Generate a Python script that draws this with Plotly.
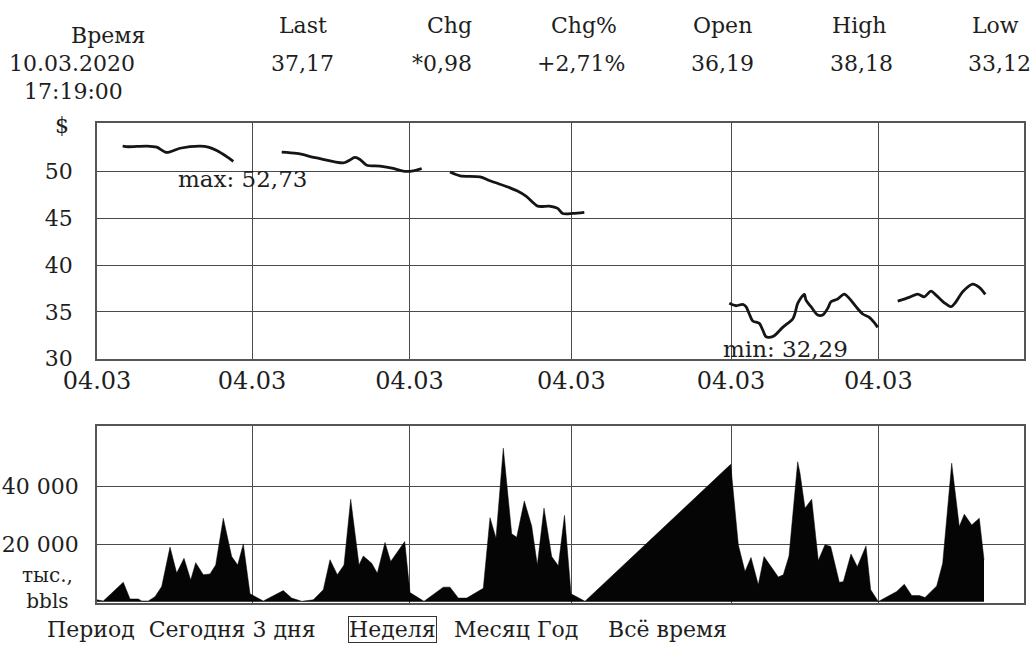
import plotly.graph_objects as go

# ---------------- data ----------------
header_labels = ["Время", "Last", "Chg", "Chg%", "Open", "High", "Low"]
header_values = ["10.03.2020", "37,17", "*0,98", "+2,71%", "36,19", "38,18", "33,12"]
header_time = "17:19:00"

# time axis (arbitrary session units); gridline ticks all labelled 04.03
tick_positions = [0, 155, 312.5, 474.3, 634, 781.3]
tick_labels = ["04.03"] * 6

# price segments (None = gap between sessions)
price_x = [25.7, 31.3, 49.7, 59.7, 69.7, 83, 103, 111.3, 119.7, 129.7, 136.3, None,
           184.7, 199.7, 219.7, 246.3, 251.3, 258, 263, 269.7, 283, 296.3, 306.3, 316.3, 324.7, None,
           353, 363, 383, 393, 413, 420, 429, 440.7, 452.3, 460.7, 465.7, 475.7, 487.3, None,
           632.3, 639, 645.7, 649, 652.3, 655.7, 662.3, 665.7, 669, 672.3, 677.3, 685.7, 695.7, 698,
           700.7, 707.3, 709, 714, 720.7, 725.7, 730.7, 734, 740.7, 747.3, 752.3, 759, 765.7, 772.3,
           777.3, 780.7, None,
           800.7, 812.3, 820.7, 827.3, 834, 839, 847.3, 854, 859, 865.7, 875.7, 882.3, 888.3]
price_y = [52.72, 52.66, 52.73, 52.62, 52.05, 52.5, 52.72, 52.62, 52.25, 51.6, 51.1, None,
           52.08, 51.94, 51.47, 50.94, 51.15, 51.52, 51.3, 50.69, 50.59, 50.34, 50.05, 50.09, 50.34, None,
           49.95, 49.55, 49.44, 49.02, 48.27, 47.95, 47.38, 46.31, 46.31, 46.07, 45.53, 45.53, 45.64, None,
           35.92, 35.66, 35.81, 35.56, 34.78, 34.03, 33.78, 33.07, 32.35, 32.29, 32.46, 33.35, 34.24, 34.85,
           35.92, 36.88, 36.27, 35.56, 34.67, 34.67, 35.38, 36.09, 36.38, 36.91, 36.45, 35.56, 34.78, 34.42,
           33.85, 33.35, None,
           36.16, 36.56, 36.91, 36.62, 37.23, 36.8, 35.98, 35.56, 36.09, 37.16, 37.98, 37.63, 36.88]

volume_x = [0, 6.3, 26.3, 33, 41.3, 44.7, 51.3, 58, 64.7, 73, 79.7, 87, 93.7, 98.7, 106.3, 113,
            118.7, 126.3, 134.7, 140.7, 146.3, 153, 166.3, 186.3, 194.7, 204.7, 216.3, 226.3,
            233, 240.3, 247, 253.7, 262, 266.3, 274.7, 280.3, 288, 293.7, 307.7, 313, 327,
            346.3, 353, 361.3, 369.7, 386.3, 393, 399, 406.3, 414.7, 419.7, 427.3, 434.7, 440.3,
            447, 454.7, 461.3, 467.5, 474, 488, 633.7, 641.3, 648, 654, 661.3, 667, 681.3, 686.3,
            692, 700.7, 703, 708, 714.7, 721.3, 728, 733.7, 742.3, 746.3, 754, 760.3, 769, 773.7,
            781.3, 799.7, 807.3, 814.7, 822.3, 828, 839.7, 845.7, 854.7, 862.3, 867.3, 874.7,
            882.3, 887]
volume_y = [700, 300, 6800, 1000, 1000, 300, 300, 1800, 5300, 19000, 10000, 15100, 7600, 13600, 9400, 9700,
            12800, 29000, 15700, 12800, 20100, 2800, 300, 3900, 1300, 200, 700, 4200,
            14600, 9400, 12800, 35600, 12800, 15900, 13400, 9900, 20600, 14000, 20900, 3200, 200,
            5100, 5100, 1300, 1300, 4700, 29200, 22100, 53300, 23600, 22400, 35000, 26300, 12800,
            32500, 15700, 12500, 30000, 2800, 200, 47700, 19800, 10500, 15400, 5900, 15700, 8600, 9400,
            15900, 48600, 44600, 32500, 35600, 14300, 19800, 19200, 6800, 7000, 16600, 12200, 19400, 4200,
            100, 3600, 6100, 2200, 2200, 1500, 5500, 13400, 48100, 26100, 30400, 26700,
            29000, 14600]

max_label = "max: 52,73"
min_label = "min: 32,29"
unit_label = "тыс.,<br>bbls"
period_words = ["Период  Сегодня 3 дня", "Неделя", "Месяц Год", "Всё время"]

# ---------------- layout helpers ----------------
W, H = 1036, 645
ML, MR, MT, MB = 97, 12, 123, 42
PW, PH = W - ML - MR, H - MT - MB


def px(x):
    return (x - ML) / PW


def py(y):
    return (H - MB - y) / PH


FONT = "DejaVu Serif"
TXT = "#1e1e1e"
GRID = "#4a4a4a"

fig = go.Figure()
fig.add_trace(go.Scatter(x=price_x, y=price_y, mode="lines", connectgaps=False,
                         line=dict(color="#151515", width=2.8, shape="spline", smoothing=0.8),
                         xaxis="x", yaxis="y", showlegend=False, hoverinfo="skip"))
fig.add_trace(go.Scatter(x=volume_x, y=volume_y, mode="lines", fill="tozeroy",
                         fillcolor="#050505", line=dict(color="#050505", width=0.5),
                         xaxis="x2", yaxis="y2", showlegend=False, hoverinfo="skip"))

axis_common = dict(showgrid=True, gridcolor=GRID, gridwidth=1, showline=True, linecolor="#555555",
                   linewidth=1.5, mirror=True, zeroline=False, ticks="", automargin=False)

fig.update_layout(
    width=W, height=H, margin=dict(l=ML, r=MR, t=MT, b=MB, pad=0, autoexpand=False),
    paper_bgcolor="white", plot_bgcolor="white", separators=", ",
    font=dict(family=FONT, color=TXT, size=22),
    xaxis=dict(domain=[0, 1], range=[0, PW], tickmode="array", tickvals=tick_positions,
               ticktext=tick_labels, anchor="y", tickfont=dict(size=24), ticklabelstandoff=0,
               **axis_common),
    yaxis=dict(domain=[py(358.7), 1], range=[30, 55.2], tickvals=[30, 35, 40, 45, 50],
               anchor="x", tickfont=dict(size=22), ticklabelstandoff=18, **axis_common),
    xaxis2=dict(domain=[0, 1], range=[0, PW], tickmode="array", tickvals=tick_positions,
                showticklabels=False, anchor="y2", **axis_common),
    yaxis2=dict(domain=[0, py(426)], range=[-400, 61000], tickvals=[20000, 40000],
                tickformat=",.0f", anchor="x2", tickfont=dict(size=22), ticklabelstandoff=12,
                **axis_common),
)


def text_at(t, x, y, size=22, anchor="center", **kw):
    return dict(text=t, x=px(x), y=py(y), xref="paper", yref="paper", showarrow=False,
                xanchor=anchor, yanchor="middle", font=dict(size=size), **kw)


ann = []
label_x = [108, 303, 449, 584, 722, 859, 995]
label_y = [35, 26, 26, 26, 26, 26, 26]
for t, x, y in zip(header_labels, label_x, label_y):
    ann.append(text_at(t, x, y))
value_x = [72, 302, 442, 581, 722, 861, 999]
for t, x in zip(header_values, value_x):
    ann.append(text_at(t, x, 63))
ann.append(text_at(header_time, 73, 91))
ann.append(text_at("$", 62, 126))
ann.append(text_at(unit_label, 47, 588, size=20))
ann.append(text_at(max_label, 242, 179, size=23))
ann.append(text_at(min_label, 785, 349, size=23))
# period selector line
ann.append(text_at(period_words[0], 45, 629, anchor="left"))
ann.append(text_at(period_words[1], 392, 629, bordercolor="#333333", borderwidth=1, borderpad=0))
ann.append(text_at(period_words[2], 452, 629, anchor="left"))
ann.append(text_at(period_words[3], 606, 629, anchor="left"))
fig.update_layout(annotations=ann)

fig.write_html("out.html", config={"displayModeBar": False},
               post_script="document.body.style.margin='0';")
